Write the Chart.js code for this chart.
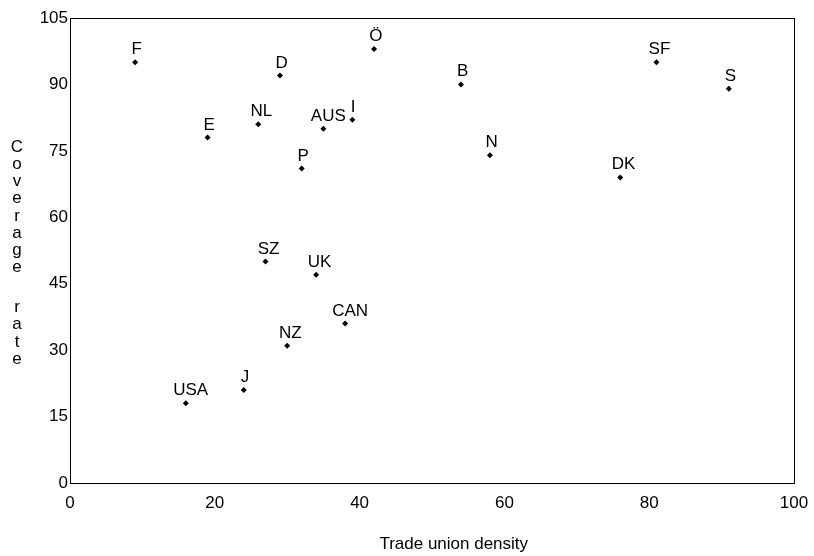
<!DOCTYPE html>
<html>
<head>
<meta charset="utf-8">
<script src="https://cdn.jsdelivr.net/npm/chart.js@4.4.0/dist/chart.umd.min.js"></script>
<style>
  html, body { margin: 0; padding: 0; background: #fff; }
  #wrap { width: 814px; height: 556px; }
</style>
</head>
<body>
<div id="wrap"><canvas id="densityChart" width="814" height="556"></canvas></div>
<script>
// data
const countries    = ['F', 'D', 'Ö', 'E', 'NL', 'AUS', 'I', 'P', 'SZ', 'UK', 'CAN', 'NZ', 'J', 'USA', 'B', 'SF', 'S', 'N', 'DK'];
const unionDensity = [9, 29, 42, 19, 26, 35, 39, 32, 27, 34, 38, 30, 24, 16, 54, 81, 91, 58, 76];
const coverageRate = [95, 92, 98, 78, 81, 80, 82, 71, 50, 47, 36, 31, 21, 18, 90, 95, 89, 74, 69];
const xTicks = [0, 20, 40, 60, 80, 100];
const yTicks = [0, 15, 30, 45, 60, 75, 90, 105];
const xTitle = 'Trade union density';
const yTitle = 'Coverage rate';

const FONT_FAMILY = '"Liberation Sans", Arial, sans-serif';
const FONT_SIZE = 17;
const FONT = FONT_SIZE + 'px ' + FONT_FAMILY;

// frame, point labels and the two axis titles
const annotate = {
    id: 'annotate',
    beforeDatasetsDraw(chart) {
        const { ctx, chartArea: a } = chart;
        ctx.save();
        ctx.strokeStyle = '#000';
        ctx.lineWidth = 1;
        ctx.strokeRect(a.left + 0.5, a.top + 0.5, a.width, a.height);
        ctx.restore();
    },
    afterDatasetsDraw(chart) {
        const { ctx, chartArea: a } = chart;
        ctx.save();
        ctx.font = FONT;
        ctx.fillStyle = '#000';
        ctx.textAlign = 'left';
        ctx.textBaseline = 'alphabetic';

        chart.getDatasetMeta(0).data.forEach((pt, i) => {
            const w = ctx.measureText(countries[i]).width;
            ctx.fillText(countries[i], pt.x - w * 0.36, pt.y - 8);
        });

        // x title
        ctx.textAlign = 'center';
        ctx.fillText(xTitle, a.left + a.width * 0.53, 549);

        // y title, one letter per line
        const mid = (a.top + a.bottom) / 2;
        let y = mid - 98.8;
        for (const ch of yTitle) {
            if (ch === ' ') { y += 22.8; continue; }
            ctx.fillText(ch, 17, y);
            y += 17.2;
        }
        ctx.restore();
    }
};

new Chart(document.getElementById('densityChart'), {
    type: 'scatter',
    data: {
        datasets: [{
            data: unionDensity.map((x, i) => ({ x: x, y: coverageRate[i] })),
            pointStyle: 'rectRot',
            pointRadius: 3,
            pointHoverRadius: 3,
            backgroundColor: '#000',
            borderColor: '#000',
            borderWidth: 0
        }]
    },
    options: {
        responsive: false,
        animation: false,
        layout: { padding: { top: 18, right: 20, left: 0, bottom: 0 } },
        plugins: {
            legend: { display: false },
            tooltip: { enabled: false }
        },
        scales: {
            x: {
                type: 'linear',
                min: 0,
                max: 100,
                afterBuildTicks: s => { s.ticks = xTicks.map(v => ({ value: v })); },
                afterFit: s => { s.height = 73; s.paddingLeft = 0; s.paddingRight = 0; },
                grid: { display: false, drawTicks: false },
                border: { display: false },
                ticks: {
                    color: '#000',
                    padding: 10,
                    maxRotation: 0,
                    font: { family: FONT_FAMILY, size: FONT_SIZE }
                }
            },
            y: {
                type: 'linear',
                min: 0,
                max: 105,
                afterBuildTicks: s => { s.ticks = yTicks.map(v => ({ value: v })); },
                afterFit: s => { s.width = 70; s.paddingTop = 0; s.paddingBottom = 0; },
                grid: { display: false, drawTicks: false },
                border: { display: false },
                ticks: {
                    color: '#000',
                    padding: 2,
                    font: { family: FONT_FAMILY, size: FONT_SIZE }
                }
            }
        }
    },
    plugins: [annotate]
});
</script>
</body>
</html>
